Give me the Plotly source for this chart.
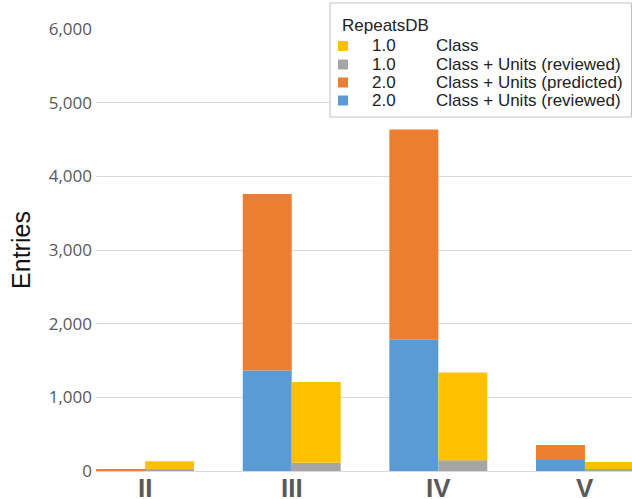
import plotly.graph_objects as go

categories = ["II", "III", "IV", "V"]
v2_reviewed = [5, 1365, 1782, 150]
v2_predicted = [10, 2395, 2853, 204]
v1_reviewed = [23, 113, 146, 27]
v1_class = [109, 1094, 1191, 95]

legend_title = "RepeatsDB"
legend_versions = ["1.0", "1.0", "2.0", "2.0"]
legend_labels = ["Class", "Class + Units (reviewed)", "Class + Units (predicted)", "Class + Units (reviewed)"]
legend_colors = ["#FFC000", "#A5A5A5", "#ED7D31", "#5B9BD5"]

W, H = 632, 499
ML, MR, MT, MB = 96, 0, 29, 28
PW, PH = W - ML - MR, H - MT - MB

def px(x):
    return (x - ML) / PW

def py(y):
    return (H - MB - y) / PH

fig = go.Figure()
fig.add_trace(go.Bar(x=categories, y=v2_reviewed, name="2.0 Class + Units (reviewed)",
                     marker=dict(color=legend_colors[3], line=dict(width=0)), offsetgroup="a"))
fig.add_trace(go.Bar(x=categories, y=v1_reviewed, name="1.0 Class + Units (reviewed)",
                     marker=dict(color=legend_colors[1], line=dict(width=0)), offsetgroup="b"))
fig.add_trace(go.Bar(x=categories, y=v2_predicted, base=v2_reviewed, name="2.0 Class + Units (predicted)",
                     marker=dict(color=legend_colors[2], line=dict(width=0)), offsetgroup="a"))
fig.add_trace(go.Bar(x=categories, y=v1_class, base=v1_reviewed, name="1.0 Class",
                     marker=dict(color=legend_colors[0], line=dict(width=0)), offsetgroup="b"))

# custom legend (box, swatches, texts)
shapes = [dict(type="rect", xref="paper", yref="paper", x0=px(330), x1=px(631.5), y0=py(117), y1=py(3),
               line=dict(color="#bfbfbf", width=1), fillcolor="white", layer="above")]
annotations = [dict(xref="paper", yref="paper", x=px(340), y=py(25), text=legend_title, showarrow=False,
                    xanchor="left", yanchor="middle", font=dict(size=17, color="#222222"))]
row_y = [46, 64.5, 82.5, 100.5]
for i in range(len(legend_labels)):
    yc = row_y[i]
    shapes.append(dict(type="rect", xref="paper", yref="paper", x0=px(338), x1=px(348),
                       y0=py(yc + 5), y1=py(yc - 5), line=dict(width=0),
                       fillcolor=legend_colors[i], layer="above"))
    annotations.append(dict(xref="paper", yref="paper", x=px(370), y=py(yc), text=legend_versions[i],
                            showarrow=False, xanchor="left", yanchor="middle",
                            font=dict(size=17, color="#222222")))
    annotations.append(dict(xref="paper", yref="paper", x=px(434), y=py(yc), text=legend_labels[i],
                            showarrow=False, xanchor="left", yanchor="middle",
                            font=dict(size=17, color="#222222")))

# category labels under the axis
for c in categories:
    annotations.append(dict(xref="x", yref="paper", x=c, y=py(488), text="<b>" + c + "</b>",
                            showarrow=False, xanchor="center", yanchor="middle",
                            font=dict(size=26, color="#595959", family="Liberation Sans, Arial, sans-serif")))

fig.update_layout(
    width=W, height=H,
    margin=dict(l=ML, r=MR, t=MT, b=MB, autoexpand=False),
    paper_bgcolor="white", plot_bgcolor="white",
    barmode="group", bargap=0.332, bargroupgap=0,
    font=dict(family="Liberation Sans, Arial, sans-serif", color="#222222"),
    showlegend=False,
    shapes=shapes, annotations=annotations,
    xaxis=dict(type="category", range=[-0.335, 3.321], showgrid=False, ticks="",
               showline=True, linecolor="#d9d9d9", linewidth=1, automargin=False,
               showticklabels=False),
    yaxis=dict(range=[0, 6000], tickvals=[0, 1000, 2000, 3000, 4000, 5000, 6000],
               tickformat=",", showgrid=True, gridcolor="#d9d9d9", gridwidth=1,
               zeroline=False, ticks="", ticklabelstandoff=3, automargin=False,
               tickfont=dict(size=17, color="#595959", family="Open Sans, sans-serif"),
               title=dict(text="Entries", font=dict(size=25, color="#111111"), standoff=10)),
)

fig.write_html("out.html", config={"displayModeBar": False},
               post_script="document.body.style.margin='0';document.body.style.overflow='hidden';")
